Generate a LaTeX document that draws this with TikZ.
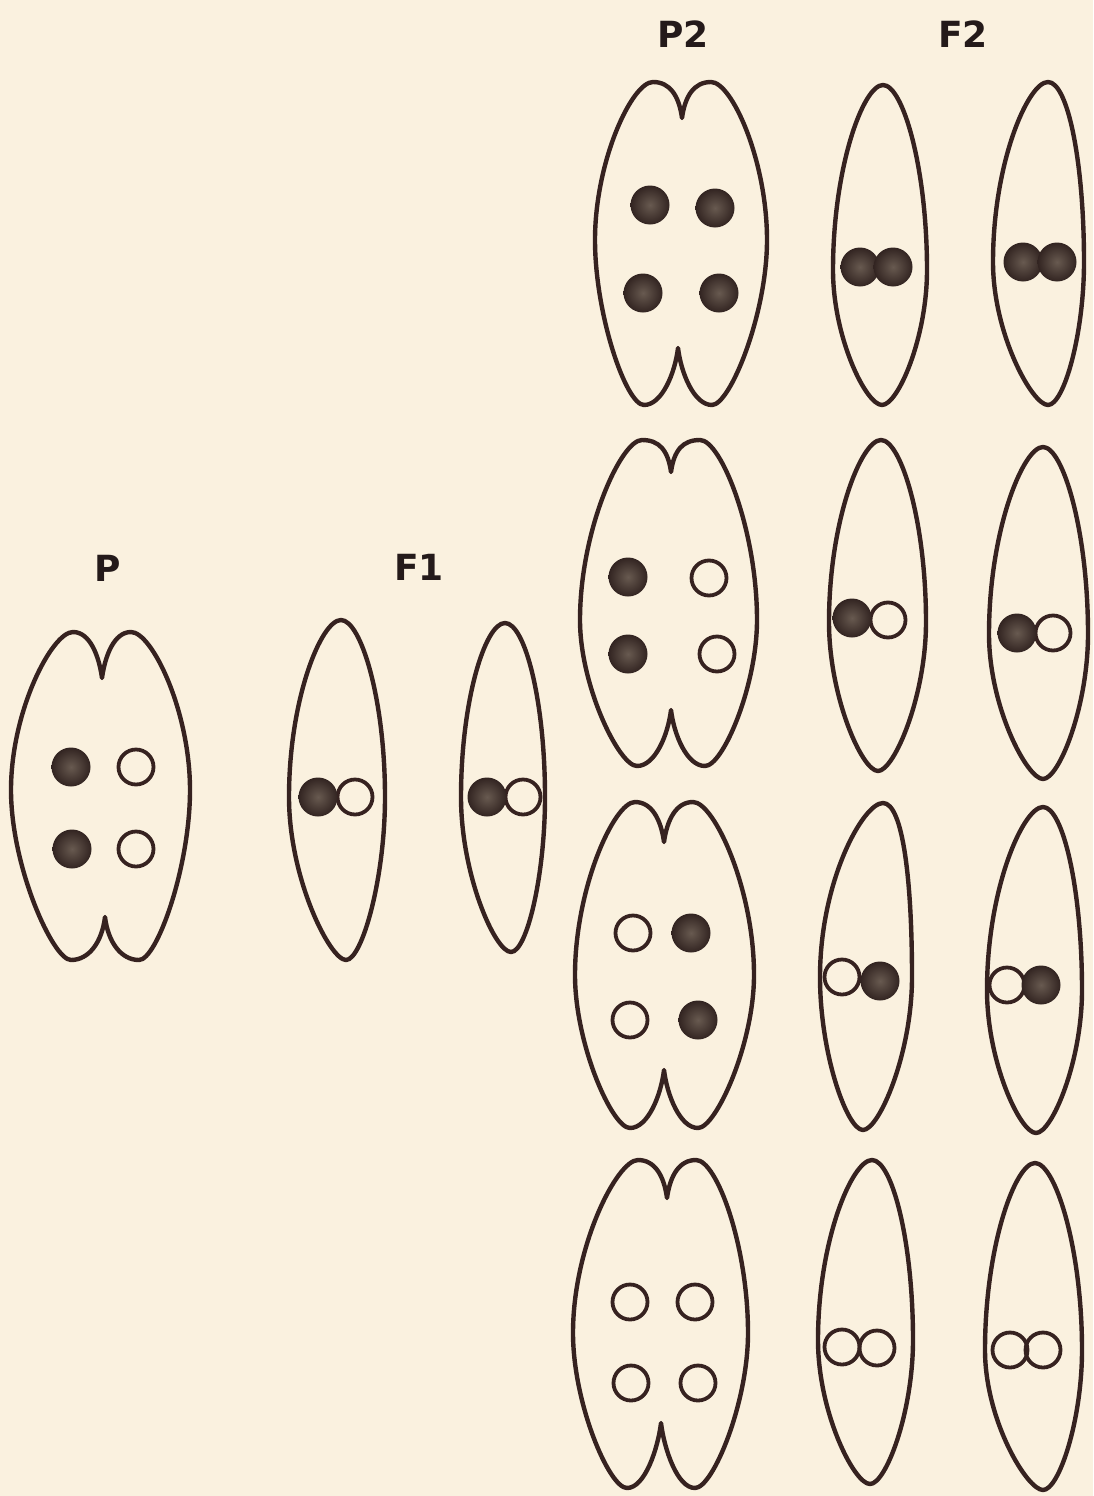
\documentclass[tikz,border=0pt]{standalone}
\usepackage{fontspec}
\newfontfamily\labelfont{DejaVu Sans}
\definecolor{paper}{RGB}{250,241,223}
\definecolor{ink}{RGB}{54,34,32}
\definecolor{labelink}{RGB}{36,26,26}
\definecolor{nucedge}{RGB}{50,36,33}
\definecolor{nuccore}{RGB}{104,90,80}

% spindle-shaped cell: top x, top y, bottom x, bottom y, left x, right x, widest y
\newcommand\spindle[7]{%
  \draw[cellline] (#1,#2)
    .. controls ({#1-20},#2) and (#5,{#7-0.55*(#7-#2)}) .. (#5,#7)
    .. controls (#5,{#7+0.5*(#4-#7)}) and ({#3-16},#4) .. (#3,#4)
    .. controls ({#3+16},#4) and (#6,{#7+0.5*(#4-#7)}) .. (#6,#7)
    .. controls (#6,{#7-0.55*(#7-#2)}) and ({#1+20},#2) .. (#1,#2) -- cycle;}

% dividing (two-lobed) cell: top notch x, top y, top notch y, left x, right x,
% widest y, bottom notch x, bottom notch y, bottom y
\newcommand\dcell[9]{%
  \draw[cellline] (#1,#3)
    .. controls ({#1-3},{#3-22}) and ({#1-12},#2) .. ({#1-29},#2)
    .. controls ({#1-50},#2) and (#4,{#6-0.5*(#6-#2)}) .. (#4,#6)
    .. controls (#4,{#6+0.45*(#9-#6)}) and ({#7-52},#9) .. ({#7-34},#9)
    .. controls ({#7-16},#9) and ({#7-3},{#8+25}) .. (#7,#8)
    .. controls ({#7+3},{#8+25}) and ({#7+16},#9) .. ({#7+34},#9)
    .. controls ({#7+52},#9) and (#5,{#6+0.45*(#9-#6)}) .. (#5,#6)
    .. controls (#5,{#6-0.5*(#6-#2)}) and ({#1+50},#2) .. ({#1+29},#2)
    .. controls ({#1+12},#2) and ({#1+3},{#3-22}) .. (#1,#3) -- cycle;}

% nuclei: dark stained and unstained
\newcommand\full[2]{\shade[nucfull] (#1,#2) circle[radius=19.5];}
\newcommand\hollow[2]{\draw[nucopen] (#1,#2) circle[radius=17.5];}

\tikzset{
  cellline/.style={draw=ink, line width=4.4pt, line join=round, line cap=round},
  nucfull/.style={inner color=nuccore, outer color=nucedge},
  nucopen/.style={draw=ink, line width=3.8pt},
  lab/.style={font=\labelfont\bfseries\fontsize{36}{36}\selectfont, text=labelink, inner sep=0pt},
}

\begin{document}
\begin{tikzpicture}[x=1pt, y=-1pt]
  \fill[paper] (0,0) rectangle (1093,1496);
  \useasboundingbox (0,0) rectangle (1093,1496);

  % generation labels
  \node[lab] (labP)  at (108,568) {P};
  \node[lab] (labF1) at (419,567) {F1};
  \node[lab] (labP2) at (683,34) {P2};
  \node[lab] (labF2) at (963,34) {F2};

  % parent cell
  \dcell{102}{632}{678}{11}{190}{790}{105}{917}{960}
  \full{71}{767}   \hollow{136}{767}
  \full{72}{849}   \hollow{136}{849}

  % F1 cells
  \spindle{341}{620}{346}{960}{289}{385}{797}
  \hollow{355}{797} \full{318}{797}
  \spindle{505}{623}{511}{952}{461}{545}{797}
  \hollow{523}{797} \full{487}{797}

  % P2 row 1 and its F2 cells
  \dcell{682}{82}{118}{595}{767}{240}{678}{348}{405}
  \full{650}{205} \full{715}{208}
  \full{643}{293} \full{719}{293}
  \spindle{883}{85}{882}{405}{833}{927}{270}
  \full{860}{267} \full{893}{267}
  \spindle{1048}{82}{1048}{405}{993}{1084}{262}
  \full{1023}{262} \full{1057}{262}

  % P2 row 2
  \dcell{671}{440}{472}{580}{757}{620}{671}{710}{766}
  \full{628}{577}  \hollow{709}{578}
  \full{628}{654}  \hollow{717}{654}
  \spindle{881}{440}{878}{771}{829}{926}{622}
  \hollow{888}{620} \full{852}{618}
  \spindle{1043}{447}{1043}{779}{989}{1088}{634}
  \hollow{1053}{633} \full{1017}{633}

  % P2 row 3
  \dcell{664}{802}{842}{575}{754}{975}{664}{1070}{1128}
  \hollow{633}{933} \full{691}{933}
  \hollow{630}{1020} \full{698}{1020}
  \spindle{883}{803}{863}{1130}{820}{912}{977}
  \hollow{842}{977} \full{880}{981}
  \spindle{1043}{807}{1036}{1133}{987}{1082}{990}
  \hollow{1007}{985} \full{1041}{985}

  % P2 row 4
  \dcell{667}{1160}{1198}{573}{748}{1333}{661}{1423}{1488}
  \hollow{630}{1302} \hollow{695}{1302}
  \hollow{631}{1383} \hollow{698}{1383}
  \spindle{872}{1160}{870}{1484}{818}{913}{1340}
  \hollow{842}{1347} \hollow{877}{1348}
  \spindle{1035}{1163}{1043}{1490}{985}{1082}{1350}
  \hollow{1010}{1350} \hollow{1043}{1350}
\end{tikzpicture}
\end{document}
